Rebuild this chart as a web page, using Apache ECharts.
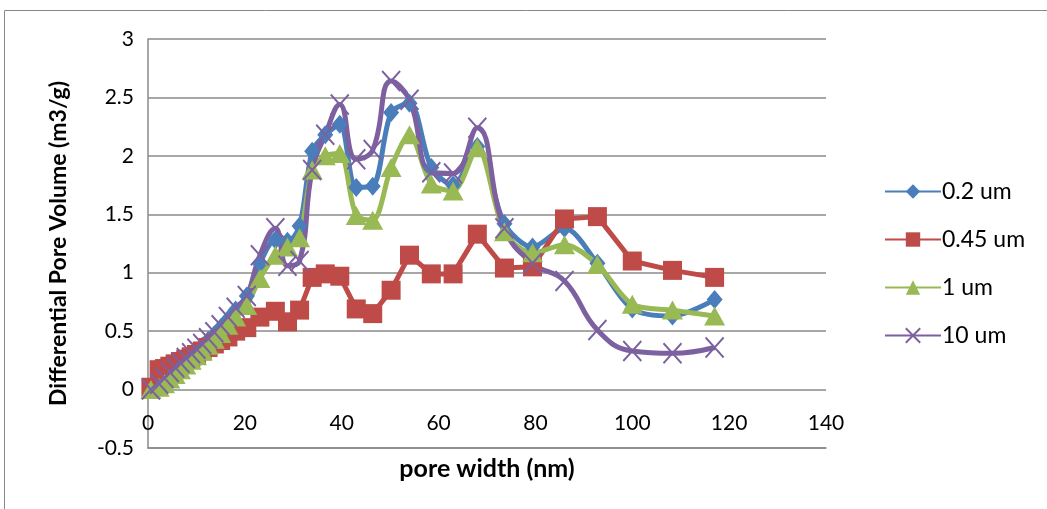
<!DOCTYPE html>
<html>
<head>
<meta charset="utf-8">
<script src="https://cdn.jsdelivr.net/npm/echarts@6/dist/echarts.min.js"></script>
<style>
html,body{margin:0;padding:0;background:#fff;}
#chart{width:1047px;height:509px;}
</style>
</head>
<body>
<div id="chart"></div>
<script>
// pore width (nm)
const poreWidth = [0.6, 2.3, 3.4, 4.5, 5.6, 6.7, 7.8, 8.9, 10.0, 11.2, 12.4, 13.7, 15.0, 16.5, 18.1, 20.4, 23.1, 26.3, 28.8, 31.3, 33.9, 36.6, 39.6, 43.0, 46.4, 50.2, 54.0, 58.5, 63.0, 68.0, 73.6, 79.4, 86.0, 92.8, 100.0, 108.3, 117.0];
const s02  = [0.01, 0.06, 0.10, 0.14, 0.17, 0.21, 0.25, 0.29, 0.33, 0.37, 0.42, 0.47, 0.53, 0.60, 0.68, 0.80, 1.08, 1.28, 1.27, 1.40, 2.04, 2.18, 2.27, 1.73, 1.74, 2.37, 2.45, 1.90, 1.75, 2.08, 1.42, 1.22, 1.38, 1.08, 0.69, 0.63, 0.77];
const s045 = [0.02, 0.17, 0.18, 0.20, 0.22, 0.24, 0.26, 0.28, 0.30, 0.33, 0.36, 0.39, 0.42, 0.45, 0.50, 0.53, 0.62, 0.67, 0.58, 0.68, 0.96, 0.99, 0.97, 0.69, 0.65, 0.85, 1.15, 0.99, 0.99, 1.33, 1.04, 1.05, 1.46, 1.48, 1.10, 1.02, 0.96];
const s1   = [0.00, 0.02, 0.05, 0.09, 0.13, 0.17, 0.21, 0.25, 0.29, 0.33, 0.38, 0.43, 0.48, 0.55, 0.62, 0.72, 0.95, 1.15, 1.22, 1.30, 1.88, 2.00, 2.02, 1.49, 1.45, 1.90, 2.18, 1.76, 1.70, 2.07, 1.35, 1.17, 1.24, 1.07, 0.73, 0.68, 0.63];
const s10  = [0.00, 0.05, 0.10, 0.15, 0.19, 0.23, 0.27, 0.31, 0.35, 0.39, 0.44, 0.49, 0.55, 0.62, 0.70, 0.80, 1.15, 1.38, 1.06, 1.10, 1.88, 2.18, 2.44, 1.97, 2.05, 2.64, 2.48, 1.86, 1.85, 2.24, 1.38, 1.08, 0.93, 0.51, 0.33, 0.31, 0.36];
const seriesNames = ['0.2 um', '0.45 um', '1 um', '10 um'];
const xTitle = 'pore width (nm)';
const yTitle = 'Differential Pore Volume (m3/g)';

const pairs = ys => poreWidth.map((x, i) => [x, ys[i]]);
const FONT = 'Lato';
const colors = ['#4A7EBB', '#BE4B48', '#98B954', '#7D60A0'];

const chart = echarts.init(document.getElementById('chart'));
chart.setOption({
  animation: false,
  textStyle: { fontFamily: FONT },
  graphic: [{
    type: 'rect',
    shape: { x: 4.5, y: 10.5, width: 1100, height: 600 },
    style: { fill: 'none', stroke: '#888', lineWidth: 1 },
    silent: true, z: -1
  }],
  grid: { left: 148, right: 221, top: 39, bottom: 61, containLabel: false, outerBoundsMode: 'none' },
  legend: {
    orient: 'vertical',
    left: 879, top: 175,
    itemWidth: 56, itemHeight: 18, itemGap: 25,
    textStyle: { fontFamily: FONT, fontSize: 23, color: '#000', padding: [0, 0, 0, -4] },
    data: seriesNames
  },
  xAxis: {
    type: 'value', min: 0, max: 140, interval: 20,
    name: xTitle, nameLocation: 'middle', nameGap: 8,
    nameTextStyle: { fontFamily: FONT, fontSize: 25, fontWeight: 'bold', color: '#000', verticalAlign: 'top' },
    axisLine: { onZero: false, lineStyle: { color: '#8a8a8a', width: 1.5 } },
    axisTick: { show: false },
    axisLabel: { inside: true, fontFamily: FONT, fontSize: 21, color: '#000', margin: 14 },
    splitLine: { show: false }
  },
  yAxis: {
    type: 'value', min: -0.5, max: 3, interval: 0.5,
    name: yTitle, nameLocation: 'middle', nameGap: 78,
    nameTextStyle: { fontFamily: FONT, fontSize: 23, fontWeight: 'bold', color: '#000' },
    axisLine: { show: true, lineStyle: { color: '#8a8a8a', width: 1.5 } },
    axisTick: { show: false },
    axisLabel: { fontFamily: FONT, fontSize: 21, color: '#000', margin: 14 },
    splitLine: { lineStyle: { color: '#8a8a8a', width: 1.5 } }
  },
  series: [
    {
      name: seriesNames[0], type: 'line', data: pairs(s02), smooth: 0.3,
      symbol: 'diamond', symbolSize: [16, 19],
      lineStyle: { color: colors[0], width: 5 },
      itemStyle: { color: colors[0] }
    },
    {
      name: seriesNames[1], type: 'line', data: pairs(s045), smooth: false,
      symbol: 'rect', symbolSize: 19,
      lineStyle: { color: colors[1], width: 5 },
      itemStyle: { color: colors[1] }
    },
    {
      name: seriesNames[2], type: 'line', data: pairs(s1), smooth: 0.3,
      symbol: 'triangle', symbolSize: [21, 19],
      lineStyle: { color: colors[2], width: 5 },
      itemStyle: { color: colors[2] }
    },
    {
      name: seriesNames[3], type: 'line', data: pairs(s10), smooth: 0.45,
      symbol: 'path://M0,0L10,10M10,0L0,10', symbolSize: [18, 20],
      lineStyle: { color: colors[3], width: 5 },
      itemStyle: { color: 'none', borderColor: colors[3], borderWidth: 2 }
    }
  ]
});
</script>
</body>
</html>
